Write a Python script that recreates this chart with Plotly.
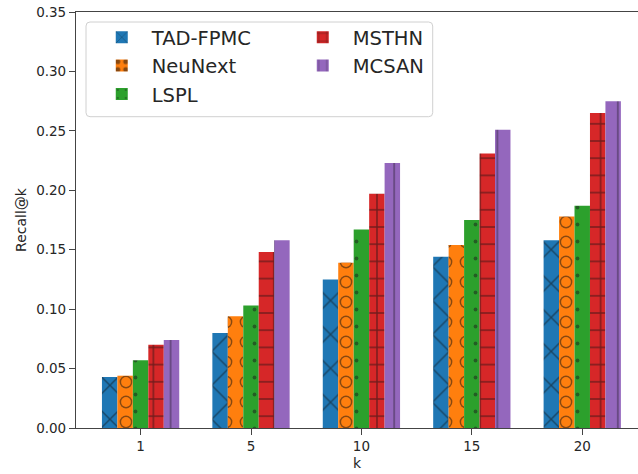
import plotly.graph_objects as go
import math

# ---- data ----
k_labels = ["1", "5", "10", "15", "20"]
series_names = ["TAD-FPMC", "NeuNext", "LSPL", "MSTHN", "MCSAN"]
tad_fpmc = [0.043, 0.080, 0.125, 0.144, 0.158]
neunext = [0.044, 0.094, 0.139, 0.154, 0.178]
lspl = [0.057, 0.103, 0.167, 0.175, 0.187]
msthn = [0.070, 0.148, 0.197, 0.231, 0.265]
mcsan = [0.074, 0.158, 0.223, 0.251, 0.275]
y_ticks = [0.00, 0.05, 0.10, 0.15, 0.20, 0.25, 0.30, 0.35]

values = [tad_fpmc, neunext, lspl, msthn, mcsan]
colors = ["#1f77b4", "#ff7f0e", "#2ca02c", "#d62728", "#9467bd"]

FONT = "DejaVu Sans"
TXT = "#262626"
BAR_W = 0.14


def sol_dot(r, size):
    return math.pi * r * r / (size * size)


patterns = [
    dict(shape="x", size=24, solidity=0.113, fgcolor="#111111"),
    dict(shape=".", size=20, solidity=sol_dot(6.4, 20), fgcolor="#111111"),
    dict(shape=".", size=17, solidity=sol_dot(1.9, 17), fgcolor="#1a1a1a"),
    dict(shape="+", size=17.2, solidity=0.157, fgcolor="#111111"),
    dict(shape="|", size=17.2, solidity=0.09, fgcolor="#2a2030"),
]
legend_ids = ["legend", "legend", "legend", "legend2", "legend2"]

fig = go.Figure()
for i, (name, vals) in enumerate(zip(series_names, values)):
    pat = dict(patterns[i])
    pat.update(bgcolor=colors[i], fillmode="overlay")
    fig.add_trace(go.Bar(
        name=name, x=k_labels, y=vals,
        offset=-0.35 + BAR_W * i, width=BAR_W,
        marker=dict(color=colors[i], line=dict(width=0), pattern=pat),
        legend=legend_ids[i],
    ))
    if name == "NeuNext":
        # inner fill of the rings
        fig.add_trace(go.Bar(
            name=name, x=k_labels, y=vals,
            offset=-0.35 + BAR_W * i, width=BAR_W,
            marker=dict(color="rgba(0,0,0,0)", line=dict(width=0),
                        pattern=dict(shape=".", size=20, solidity=sol_dot(4.9, 20),
                                     fgcolor=colors[i], bgcolor="rgba(0,0,0,0)",
                                     fillmode="replace")),
            showlegend=False, hoverinfo="skip",
        ))

# legend frame (rounded rectangle)
PL, PW, PT, PH = 76, 562, 12, 416
x0, x1 = (86 - PL) / PW, (432.7 - PL) / PW
y1, y0 = 1 - (22 - PT) / PH, 1 - (116.7 - PT) / PH
rx, ry = 4 / PW, 4 / PH
path = (f"M{x0+rx},{y1} L{x1-rx},{y1} Q{x1},{y1} {x1},{y1-ry} "
        f"L{x1},{y0+ry} Q{x1},{y0} {x1-rx},{y0} L{x0+rx},{y0} "
        f"Q{x0},{y0} {x0},{y0+ry} L{x0},{y1-ry} Q{x0},{y1} {x0+rx},{y1} Z")

fig.update_layout(
    width=638, height=474,
    margin=dict(l=PL, r=0, t=PT, b=474 - PT - PH, autoexpand=False),
    plot_bgcolor="white", paper_bgcolor="white",
    barmode="overlay",
    font=dict(family=FONT, color=TXT, size=13.5),
    shapes=[dict(type="path", xref="paper", yref="paper", path=path,
                 fillcolor="rgba(255,255,255,0.8)",
                 line=dict(color="#d0d0d0", width=1), layer="above")],
    legend=dict(x=(94 - PL) / PW - 0.02 + 9 / PW, y=y1 - 0.005 + 6 / PH,
                xanchor="left", yanchor="top",
                bgcolor="rgba(0,0,0,0)", borderwidth=0,
                font=dict(family=FONT, size=19.5, color=TXT), itemwidth=50),
    legend2=dict(x=(295 - PL) / PW - 0.02 + 9 / PW, y=y1 - 0.005 + 6 / PH,
                 xanchor="left", yanchor="top",
                 bgcolor="rgba(0,0,0,0)", borderwidth=0,
                 font=dict(family=FONT, size=19.5, color=TXT), itemwidth=50),
    xaxis=dict(
        type="category", range=[-0.585, 4.505],
        showline=True, linecolor="#444444", linewidth=1.2, mirror=True,
        ticks="outside", ticklen=6, tickcolor="#444444", tickwidth=1,
        showgrid=False, zeroline=False, automargin=False,
        title=dict(text="k", font=dict(size=14, family=FONT, color=TXT), standoff=4),
        tickfont=dict(size=13.5, family=FONT, color=TXT),
    ),
    yaxis=dict(
        range=[0, 0.35], tickvals=y_ticks, tickformat=".2f",
        showline=True, linecolor="#444444", linewidth=1.2,
        ticks="outside", ticklen=6, tickcolor="#444444", tickwidth=1,
        showgrid=False, zeroline=False, automargin=False,
        title=dict(text="Recall@k", font=dict(size=14, family=FONT, color=TXT), standoff=6),
        tickfont=dict(size=13.5, family=FONT, color=TXT),
    ),
)

fig.write_html("out.html", config={"displayModeBar": False},
               post_script="document.body.style.margin='0';")
